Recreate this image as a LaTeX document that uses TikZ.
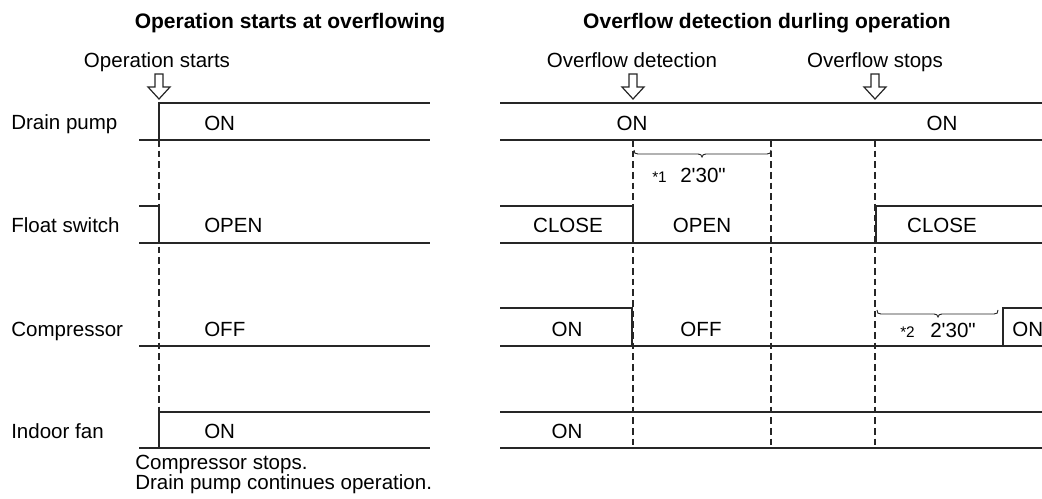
\documentclass[tikz,border=0pt]{standalone}
\usepackage{fontspec}
\setmainfont{Liberation Sans}[Ligatures=TeXOff]

\tikzset{
	sig/.style={line width=1.3pt, draw=black!85},
	guide/.style={line width=0.8pt, draw=black!85, dash pattern=on 5pt off 3pt},
	hollow/.style={line width=0.9pt, draw=black!85, fill=white},
	brc/.style={line width=0.7pt, draw=black!85},
	lbl/.style={anchor=base west, inner sep=0pt},
	val/.style={anchor=base, inner sep=0pt},
	ttl/.style={anchor=base, inner sep=0pt, font=\fontsize{15.75}{18}\bfseries},
	tiny/.style={anchor=base west, inner sep=0pt, font=\fontsize{11.5}{12}\selectfont}
}

\begin{document}
\begin{tikzpicture}[x=0.75pt,y=0.75pt,yscale=-1,xscale=1,font=\fontsize{15.4}{18}\selectfont]
		\useasboundingbox (0,0) rectangle (1042,499);
		% titles
		\node[ttl] (ttlL) at (290,29) {Operation starts at overflowing};
		\node[ttl] (ttlR) at (767,29) {Overflow detection durling operation};
		% events
		\node[val] (evStart) at (157,68) {Operation starts};
		\node[val] (evDetect) at (632,68) {Overflow detection};
		\node[val] (evStop) at (875,68) {Overflow stops};
		\foreach \ax in {159,633,875}
			\draw[hollow] (\ax-4,74) -- (\ax+4,74) -- (\ax+4,87) -- (\ax+11,87) -- (\ax,99) -- (\ax-11,87) -- (\ax-4,87) -- cycle;
		% row names
		\node[lbl] (rDrain) at (11,130) {Drain pump};
		\node[lbl] (rFloat) at (11,232) {Float switch};
		\node[lbl] (rComp) at (11,336) {Compressor};
		\node[lbl] (rFan) at (11,438) {Indoor fan};
		
		% left chart
		\draw[sig] (139,140) -- (430,140);
		\draw[sig] (159,140) -- (159,103) -- (430,103);
		\draw[sig] (139,206) -- (159,206) -- (159,243);
		\draw[sig] (139,243) -- (430,243);
		\draw[sig] (139,346) -- (430,346);
		\draw[sig] (159,448) -- (159,412) -- (430,412);
		\draw[sig] (139,448) -- (430,448);
		\draw[guide] (159,140) -- (159,412);
		\node[lbl] (lDrain) at (204,131) {ON};
		\node[lbl] (lFloat) at (204,233) {OPEN};
		\node[lbl] (lComp) at (204,336) {OFF};
		\node[lbl] (lFan) at (204,438) {ON};
		\node[lbl] (note1) at (135,469) {Compressor stops.};
		\node[lbl] (note2) at (135,489) {Drain pump continues operation.};
		
		% right chart
		\draw[sig] (500,103) -- (1042,103);
		\draw[sig] (500,140) -- (1042,140);
		\draw[sig] (500,206) -- (633,206) -- (633,243);
		\draw[sig] (876,243) -- (876,206) -- (1042,206);
		\draw[sig] (500,243) -- (1042,243);
		\draw[sig] (500,308) -- (632,308) -- (632,346);
		\draw[sig] (1003,346) -- (1003,308) -- (1042,308);
		\draw[sig] (500,346) -- (1042,346);
		\draw[sig] (500,412) -- (1042,412);
		\draw[sig] (500,448) -- (1042,448);
		\foreach \gx in {633,771,875}
			\draw[guide] (\gx,140) -- (\gx,448);
		\node[val] (rDrainA) at (632,131) {ON};
		\node[val] (rDrainB) at (942,131) {ON};
		\node[val] (rFloatA) at (568,233) {CLOSE};
		\node[val] (rFloatB) at (702,233) {OPEN};
		\node[val] (rFloatC) at (942,233) {CLOSE};
		\node[val] (rCompA) at (567,336) {ON};
		\node[val] (rCompB) at (701,336) {OFF};
		\node[lbl] (rCompC) at (1012,336) {ON};
		\node[val] (rFanA) at (567,438) {ON};
		
		% delays
		\draw[brc] (634,150) .. controls (634,153) and (635,154) .. (638,154) -- (698,154) .. controls (700,154) and (702,155) .. (702,157) .. controls (702,155) and (704,154) .. (706,154) -- (767,154) .. controls (770,154) and (771,153) .. (771,150);
		\node[tiny] (star1) at (652,183) {*1};
		\node[lbl] (dly1) at (680,183) {2'30"};
		\draw[brc] (877,310) .. controls (877,313) and (878,314) .. (881,314) -- (934,314) .. controls (936,314) and (938,315) .. (938,317) .. controls (938,315) and (940,314) .. (942,314) -- (994,314) .. controls (997,314) and (998,313) .. (998,310);
		\node[tiny] (star2) at (900,337) {*2};
		\node[lbl] (dly2) at (930,337) {2'30"};
\end{tikzpicture}
\end{document}
